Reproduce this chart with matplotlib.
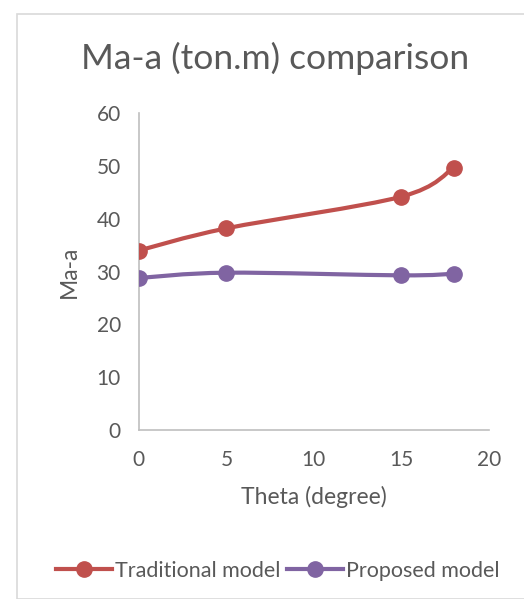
import numpy as np
import matplotlib.pyplot as plt
from matplotlib.path import Path
from matplotlib.patches import PathPatch, Rectangle
from matplotlib.lines import Line2D

# values
theta = [0, 5, 15, 18]
traditional = [34.0, 38.2, 44.2, 49.7]
proposed = [28.8, 29.8, 29.3, 29.6]

red = '#C0504D'
purple = '#8064A2'
grey_text = '#595959'

plt.rcParams['font.family'] = ['Lato', 'DejaVu Sans']


def smooth_path(x, y):
    # Excel style smoothed line: cubic bezier, catmull-rom control points
    pts = np.column_stack([x, y]).astype(float)
    n = len(pts)
    verts = [pts[0]]
    codes = [Path.MOVETO]
    for i in range(n - 1):
        p0 = pts[i - 1] if i > 0 else pts[i]
        p1 = pts[i]
        p2 = pts[i + 1]
        p3 = pts[i + 2] if i + 2 < n else pts[i + 1]
        c1 = p1 + (p2 - p0) / 6.0
        c2 = p2 - (p3 - p1) / 6.0
        verts += [c1, c2, p2]
        codes += [Path.CURVE4] * 3
    return Path(verts, codes)


fig = plt.figure(figsize=(5.24, 5.99), dpi=100)
fig.patches.append(Rectangle((17 / 524, 0), 1.2, 1 - 14 / 599, transform=fig.transFigure,
                             fill=False, edgecolor='#D9D9D9', linewidth=1.2))

ax = fig.add_axes([0.265, 0.282, 0.668, 0.529])

for ys, col, name in [(traditional, red, 'Traditional model'), (proposed, purple, 'Proposed model')]:
    ax.add_patch(PathPatch(smooth_path(theta, ys), fill=False, edgecolor=col,
                           linewidth=3, capstyle='round', zorder=2))
    ax.plot(theta, ys, linestyle='none', marker='o', markersize=11, color=col, zorder=3)

ax.set_xlim(0, 20)
ax.set_ylim(0, 60)
ax.set_xticks(range(0, 21, 5))
ax.set_yticks(range(0, 61, 10))
ax.tick_params(length=0, labelsize=15, colors=grey_text)
ax.tick_params(axis='x', pad=14)
ax.tick_params(axis='y', pad=13)
for s in ['top', 'right']:
    ax.spines[s].set_visible(False)
for s in ['left', 'bottom']:
    ax.spines[s].set_color('#BFBFBF')
    ax.spines[s].set_linewidth(1.2)

ax.set_xlabel('Theta (degree)', fontsize=16.5, color=grey_text, labelpad=12)
ax.set_ylabel('Ma-a', fontsize=16.5, color=grey_text, labelpad=12)
fig.text(0.525, 1 - 58 / 599, 'Ma-a (ton.m) comparison', ha='center', va='center',
         fontsize=25.5, color=grey_text)

handles = [Line2D([], [], color=red, linewidth=3, marker='o', markersize=11),
           Line2D([], [], color=purple, linewidth=3, marker='o', markersize=11)]
fig.legend(handles, ['Traditional model', 'Proposed model'], loc='center',
           bbox_to_anchor=(0.53, 1 - 571 / 599), ncol=2, frameon=False,
           fontsize=15.5, handlelength=2.6, handletextpad=0.15, columnspacing=0.3,
           labelcolor=grey_text)

fig.savefig('out.png', dpi=100)
